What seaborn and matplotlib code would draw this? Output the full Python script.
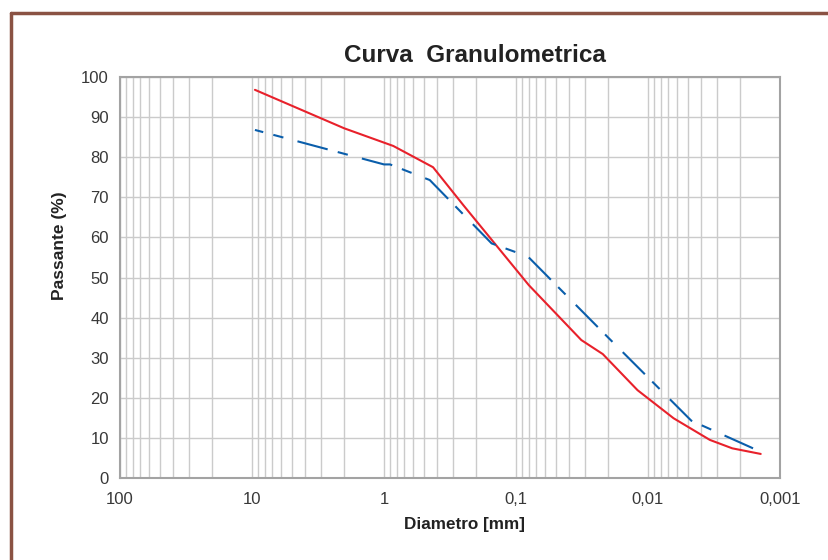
import numpy as np
import pandas as pd
import seaborn as sns
import matplotlib.pyplot as plt
from matplotlib.lines import Line2D
from matplotlib.ticker import LogLocator, FixedLocator, FuncFormatter

# dati (diametro in mm, passante in %)
red_d = [9.5, 2.0, 0.85, 0.425, 0.25, 0.08, 0.032, 0.022, 0.012, 0.0064, 0.0034, 0.0023, 0.0014]
red_p = [96.8, 87.2, 82.8, 77.5, 68.0, 48.1, 34.4, 30.9, 21.9, 14.9, 9.5, 7.4, 6.0]

blue_d = [9.5, 1.0, 0.9, 0.45, 0.153, 0.1, 0.08, 0.02, 0.0047, 0.0016]
blue_p = [86.8, 78.2, 78.2, 74.3, 58.5, 56.3, 55.0, 35.0, 14.3, 7.4]

x_ticks = [100, 10, 1, 0.1, 0.01, 0.001]
x_labels = ['100', '10', '1', '0,1', '0,01', '0,001']
y_ticks = list(range(0, 101, 10))

df = pd.concat([
    pd.DataFrame({'d': red_d, 'p': red_p, 'curva': 'rossa'}),
    pd.DataFrame({'d': blue_d, 'p': blue_p, 'curva': 'blu'}),
])

sns.set_style('white')
plt.rcParams['font.family'] = ['Liberation Sans', 'DejaVu Sans']

fig = plt.figure(figsize=(8.29, 5.60), dpi=100)
ax = fig.add_axes([120 / 829, 82 / 560, 660 / 829, 401 / 560])

sns.lineplot(data=df, x='d', y='p', hue='curva', style='curva',
             palette={'rossa': '#e8212b', 'blu': '#0a5eab'},
             dashes={'rossa': '', 'blu': (15, 7, 5, 5)},
             linewidth=1.5, legend=False, ax=ax, zorder=3)

ax.set_xscale('log')
ax.set_xlim(100, 0.001)
ax.set_ylim(0, 100)
ax.xaxis.set_major_locator(FixedLocator(x_ticks))
ax.xaxis.set_major_formatter(FuncFormatter(lambda v, pos: x_labels[x_ticks.index(v)] if v in x_ticks else ''))
ax.xaxis.set_minor_locator(LogLocator(base=10, subs=np.arange(2, 10), numticks=20))
ax.set_yticks(y_ticks)

ax.grid(which='both', color='#cbcbcb', linewidth=1)
ax.tick_params(axis='both', which='major', direction='out', length=6, width=1,
               color='#a0a0a0', labelsize=12, labelcolor='#383838')
ax.tick_params(axis='x', which='minor', length=0)
ax.tick_params(axis='x', pad=4)
ax.tick_params(axis='y', pad=2)

for s in ax.spines.values():
    s.set_color('#a3a3a3')
    s.set_linewidth(1.5)

ax.set_xlabel('')
ax.set_ylabel('')
fig.text(465 / 829, 1 - 524 / 560, 'Diametro [mm]', ha='center', va='center',
         fontsize=12.3, fontweight='bold', color='#222222')
fig.text(60 / 829, 1 - 246 / 560, 'Passante (%)', ha='center', va='center', rotation=90,
         fontsize=12.5, fontweight='bold', color='#222222')

fig.text(475 / 829, 1 - 62 / 560, 'Curva  Granulometrica', ha='center', va='baseline',
         fontsize=17.5, fontweight='bold', color='#222222')

# cornice marrone (solo lato superiore e sinistro)
fig.add_artist(Line2D([11.5 / 829, 1], [1 - 12.5 / 560, 1 - 12.5 / 560], color='#8a5243', lw=2.5))
fig.add_artist(Line2D([11.5 / 829, 11.5 / 829], [0, 1 - 12.5 / 560], color='#8a5243', lw=2.5))

fig.savefig('out.png', dpi=100)
